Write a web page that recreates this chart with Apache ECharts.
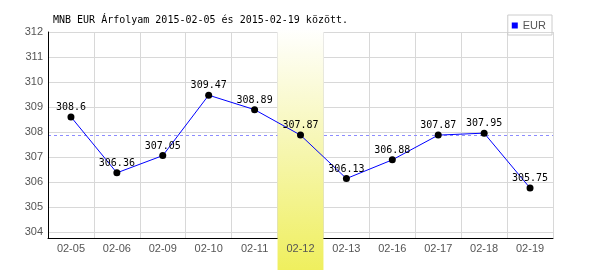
<!DOCTYPE html>
<html>
<head>
<meta charset="utf-8">
<script src="https://cdn.jsdelivr.net/npm/echarts@6/dist/echarts.min.js"></script>
<style>html,body{margin:0;padding:0;background:#fff;}#c{width:600px;height:270px;}</style>
</head>
<body>
<div id="c"></div>
<script>
var titleText = 'MNB EUR Árfolyam 2015-02-05 és 2015-02-19 között.';
var seriesName = 'EUR';
var categories = ['02-05','02-06','02-09','02-10','02-11','02-12','02-13','02-16','02-17','02-18','02-19'];
var eurValues = [308.6, 306.36, 307.05, 309.47, 308.89, 307.87, 306.13, 306.88, 307.87, 307.95, 305.75];
var highlightDate = '02-12';
var yTicks = [304, 305, 306, 307, 308, 309, 310, 311, 312];

var hiIndex = categories.indexOf(highlightDate);
var bandData = categories.map(function (c) { return c === highlightDate ? 1 : '-'; });
var refValue = eurValues[hiIndex];

var chart = echarts.init(document.getElementById('c'), null, {renderer: 'canvas'});
var mono = 'DejaVu Sans Mono';
var sans = 'Liberation Sans';
chart.setOption({
  animation: false,
  backgroundColor: '#ffffff',
  title: {
    text: titleText, left: 53, top: 15, padding: 0,
    textStyle: {fontFamily: mono, fontSize: 10, fontWeight: 'normal', color: '#000'}
  },
  legend: {
    right: 48, top: 15, orient: 'vertical',
    borderColor: '#cccccc', borderWidth: 1, padding: [5, 6, 4, 4],
    icon: 'rect', itemWidth: 6, itemHeight: 6,
    textStyle: {fontFamily: sans, fontSize: 11, color: '#555'},
    data: [{name: seriesName, itemStyle: {color: '#0000ff'}}]
  },
  grid: [
    {left: 48, right: 47, top: 32, bottom: 38},
    {left: 48, right: 47, top: 32, bottom: 32},
    {left: 48, right: 47, top: 28, bottom: 0}
  ],
  xAxis: [
    {gridIndex: 0, type: 'category', data: categories, show: false},
    {gridIndex: 1, type: 'category', data: categories, boundaryGap: true, z: 0,
      axisLine: {show: true, lineStyle: {color: '#000', width: 1}},
      axisTick: {show: false}, axisLabel: {show: false},
      splitLine: {show: true, interval: 0, lineStyle: {color: '#d8d8d8', width: 1}}},
    {gridIndex: 1, type: 'category', data: categories, position: 'bottom', boundaryGap: true, z: 10,
      axisLine: {show: false}, axisTick: {show: false}, splitLine: {show: false},
      axisLabel: {show: true, interval: 0, margin: 5, color: '#555', fontFamily: sans, fontSize: 11}},
    {gridIndex: 2, type: 'category', data: categories, show: false}
  ],
  yAxis: [
    {gridIndex: 0, type: 'value', min: yTicks[0], max: yTicks[yTicks.length - 1], interval: 1, z: 0,
      axisLine: {show: false}, axisTick: {show: false},
      axisLabel: {show: true, margin: 5, color: '#555', fontFamily: sans, fontSize: 11},
      splitLine: {show: true, lineStyle: {color: '#d8d8d8', width: 1}}},
    {gridIndex: 1, type: 'value', min: 303.75, max: 312, z: 1,
      axisLine: {show: true, lineStyle: {color: '#000', width: 1}},
      axisTick: {show: false}, axisLabel: {show: false}, splitLine: {show: false}},
    {gridIndex: 2, type: 'value', min: 0, max: 1, show: false}
  ],
  series: [
    {
      type: 'bar', xAxisIndex: 3, yAxisIndex: 2, z: 3,
      data: bandData, barWidth: '100%', barGap: '0%', barCategoryGap: '0%',
      silent: true, legendHoverLink: false,
      itemStyle: {color: new echarts.graphic.LinearGradient(0, 0, 0, 1, [
        {offset: 0, color: '#ffffff'},
        {offset: 0.45, color: '#f7f7b8'},
        {offset: 1, color: '#efef5e'}
      ])}
    },
    {
      name: seriesName, type: 'line', xAxisIndex: 1, yAxisIndex: 1, z: 5,
      data: eurValues,
      symbol: 'circle', symbolSize: 7,
      itemStyle: {color: '#000'},
      lineStyle: {color: '#0000ff', width: 1},
      label: {show: true, position: 'top', distance: 1, color: '#000', fontFamily: mono, fontSize: 10},
      markLine: {
        z: 1, silent: true, symbol: 'none', label: {show: false},
        lineStyle: {color: '#8c8cff', type: [3, 3], width: 1},
        data: [{yAxis: refValue}]
      }
    }
  ]
});
</script>
</body>
</html>
